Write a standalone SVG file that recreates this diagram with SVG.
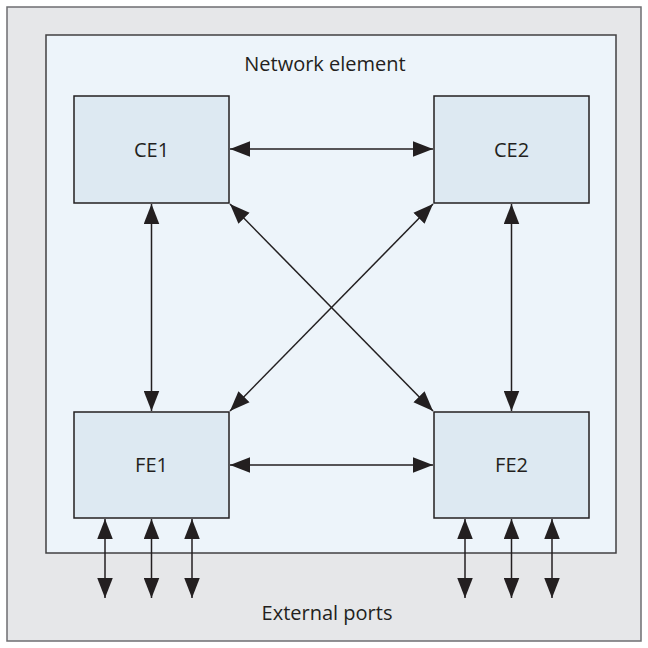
<svg xmlns="http://www.w3.org/2000/svg" width="648" height="648" viewBox="0 0 648 648">
<style>
.frame{fill:#e6e7e9;stroke:#6d6e71;stroke-width:1.5}
.ne{fill:#edf4fa;stroke:#414042;stroke-width:1.5}
.box{fill:#dde9f2;stroke:#231f20;stroke-width:1.5}
.lbl{font-family:"Open Sans","Noto Sans",sans-serif;font-size:20px;fill:#231f20;text-anchor:middle}
.con{stroke:#231f20;stroke-width:1.5;fill:none;marker-start:url(#ah);marker-end:url(#ah)}
</style>
<defs>
<marker id="ah" markerUnits="userSpaceOnUse" markerWidth="20" markerHeight="16" refX="18" refY="7" orient="auto-start-reverse" viewBox="0 0 18 14">
<path d="M0,0 L18,7 L0,14 Z" fill="#231f20"/>
</marker>
</defs>
<rect class="frame" x="7" y="7" width="634" height="634"/>
<g id="network-element">
<rect class="ne" x="46" y="35" width="570" height="518"/>
<text class="lbl" x="325" y="71">Network element</text>
</g>
<g id="CE1"><rect class="box" x="74" y="96" width="155" height="107"/><text class="lbl" x="151.5" y="157">CE1</text></g>
<g id="CE2"><rect class="box" x="434" y="96" width="155" height="107"/><text class="lbl" x="511.5" y="157">CE2</text></g>
<g id="FE1"><rect class="box" x="74" y="412" width="155" height="106"/><text class="lbl" x="151.5" y="472">FE1</text></g>
<g id="FE2"><rect class="box" x="434" y="412" width="155" height="106"/><text class="lbl" x="511.5" y="472">FE2</text></g>
<g id="connectors">
<line class="con" x1="230" y1="149" x2="433" y2="149"/>
<line class="con" x1="230" y1="465" x2="433" y2="465"/>
<line class="con" x1="151.5" y1="204" x2="151.5" y2="411"/>
<line class="con" x1="511.5" y1="204" x2="511.5" y2="411"/>
<line class="con" x1="230" y1="204" x2="433" y2="411"/>
<line class="con" x1="433" y1="204" x2="230" y2="411"/>
<line class="con" x1="105" y1="519" x2="105" y2="598"/>
<line class="con" x1="151.5" y1="519" x2="151.5" y2="598"/>
<line class="con" x1="192" y1="519" x2="192" y2="598"/>
<line class="con" x1="465" y1="519" x2="465" y2="598"/>
<line class="con" x1="511.5" y1="519" x2="511.5" y2="598"/>
<line class="con" x1="552" y1="519" x2="552" y2="598"/>
</g>
<g id="external-ports"><text class="lbl" x="327" y="620">External ports</text></g>
</svg>
